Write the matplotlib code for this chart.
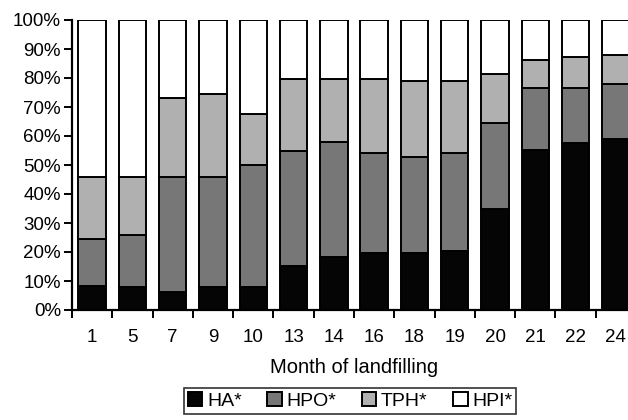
import matplotlib.pyplot as plt
import numpy as np

plt.rcParams['font.family'] = ['Liberation Sans', 'DejaVu Sans']

# months and fraction data (percent of total)
months = ['1', '5', '7', '9', '10', '13', '14', '16', '18', '19', '20', '21', '22', '24']
ha = [8.4, 7.8, 6.1, 7.8, 7.8, 15.2, 18.2, 19.5, 19.5, 20.3, 35.0, 55.3, 57.7, 59.0]
hpo = [16.1, 18.2, 39.9, 38.2, 42.1, 39.8, 39.8, 34.5, 33.4, 34.0, 29.6, 21.4, 19.0, 18.9]
tph = [21.5, 20.0, 27.0, 28.4, 17.8, 24.7, 21.6, 25.6, 26.1, 24.7, 16.8, 9.6, 10.4, 10.0]
hpi = [54.0, 54.0, 27.0, 25.6, 32.3, 20.3, 20.4, 20.4, 21.0, 21.0, 18.6, 13.7, 12.9, 12.1]

series = [('HA*', ha, '#050505'), ('HPO*', hpo, '#777777'),
          ('TPH*', tph, '#b0b0b0'), ('HPI*', hpi, '#ffffff')]

fig = plt.figure(figsize=(6.28, 4.2), dpi=100)
ax = fig.add_axes([72 / 628, 1 - 310 / 420, 564 / 628, 290 / 420])

x = np.arange(len(months))
bottom = np.zeros(len(months))
for name, vals, col in series:
    vals = np.array(vals)
    ax.bar(x, vals, 0.68, bottom=bottom, color=col, edgecolor='black',
           linewidth=1.4, label=name)
    bottom += vals

ax.set_ylim(0, 100)
ax.set_xlim(-0.5, len(months) - 0.5)
ax.set_yticks(np.arange(0, 101, 10))
ax.set_yticklabels([f'{v}%' for v in range(0, 101, 10)], fontsize=13.5)
ax.set_xticks(x)
ax.set_xticklabels(months, fontsize=13.5)
ax.tick_params(axis='x', length=0, pad=14)
ax.set_xticks(np.arange(-0.5, len(months)), minor=True)
ax.tick_params(axis='x', which='minor', length=6, width=1.4, direction='out')
ax.tick_params(axis='y', length=6, width=1.4, direction='out', pad=2)

for s in ['top', 'right']:
    ax.spines[s].set_visible(False)
ax.spines['left'].set_linewidth(1.6)
ax.spines['bottom'].set_linewidth(1.6)

ax.set_xlabel('Month of landfilling', fontsize=14.5, labelpad=8)

leg = fig.legend(loc='center', bbox_to_anchor=(350 / 628, 1 - 401 / 420), ncol=4,
                 fontsize=14, frameon=True, fancybox=False, edgecolor='black',
                 handlelength=0.75, handleheight=0.75, handletextpad=0.25,
                 columnspacing=1.3, borderpad=0.2)
leg.get_frame().set_linewidth(1.2)

fig.savefig('out.png', dpi=100)
